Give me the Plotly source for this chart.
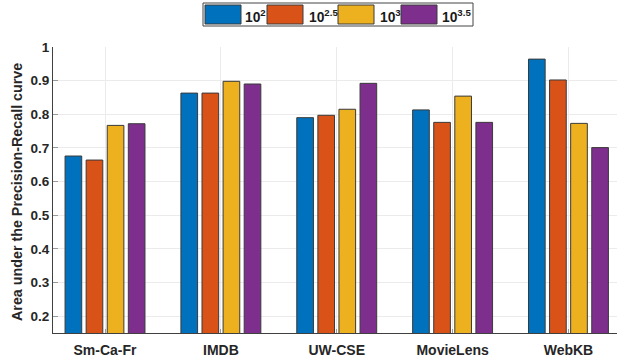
import plotly.graph_objects as go

# ---- data ----
categories = ["Sm-Ca-Fr", "IMDB", "UW-CSE", "MovieLens", "WebKB"]
series_names = ["10<sup>2</sup>", "10<sup>2.5</sup>", "10<sup>3</sup>", "10<sup>3.5</sup>"]
vals_1e2 = [0.676, 0.863, 0.790, 0.813, 0.964]
vals_1e25 = [0.664, 0.863, 0.797, 0.776, 0.902]
vals_1e3 = [0.767, 0.898, 0.815, 0.854, 0.773]
vals_1e35 = [0.772, 0.890, 0.892, 0.776, 0.701]
series_values = [vals_1e2, vals_1e25, vals_1e3, vals_1e35]
ytick_vals = [0.2, 0.3, 0.4, 0.5, 0.6, 0.7, 0.8, 0.9, 1.0]
ytick_text = ["0.2", "0.3", "0.4", "0.5", "0.6", "0.7", "0.8", "0.9", "1"]
y_title = "Area under the Precision-Recall curve"

colors = ["#0072BD", "#D95319", "#EDB120", "#7E2F8E"]
FONT = "Liberation Sans"

W, H = 617, 360
L, R, T, B = 53, 0, 47, 27
PW, PH = W - L - R, H - T - B


def px2x(px):
    return (px - L) / PW


def py2y(py):
    return (H - B - py) / PH


fig = go.Figure()
for name, vals, col in zip(series_names, series_values, colors):
    fig.add_trace(go.Bar(
        x=categories, y=vals, name=name,
        marker=dict(color=col, line=dict(color="#3a3a3a", width=1)),
        showlegend=False, hoverinfo="skip",
    ))

# manual legend (wide swatches like the original)
shapes = [dict(type="rect", xref="paper", yref="paper",
               x0=px2x(203), x1=px2x(473), y0=py2y(26), y1=py2y(3),
               line=dict(color="#444444", width=1), fillcolor="white")]
annotations = []
sw_x = [205, 267, 338, 401]
txt_x = [243, 307, 378, 440]
for i, (name, col) in enumerate(zip(series_names, colors)):
    shapes.append(dict(type="rect", xref="paper", yref="paper",
                       x0=px2x(sw_x[i]), x1=px2x(sw_x[i] + 36),
                       y0=py2y(24), y1=py2y(5),
                       line=dict(color="#3a3a3a", width=1), fillcolor=col))
    annotations.append(dict(xref="paper", yref="paper", x=px2x(txt_x[i]),
                            y=py2y(16), text=name, showarrow=False,
                            xanchor="left", yanchor="middle",
                            font=dict(family=FONT, size=13.8, color="#1a1a1a",
                                      weight="bold")))
# y-axis title
annotations.append(dict(xref="paper", yref="paper", x=px2x(17), y=py2y(192),
                        text=y_title, showarrow=False, textangle=-90,
                        xanchor="center", yanchor="middle",
                        font=dict(family=FONT, size=14.3, color="#262626",
                                  weight="bold")))

fig.update_layout(
    width=W, height=H,
    margin=dict(l=L, r=R, t=T, b=B, autoexpand=False),
    paper_bgcolor="white", plot_bgcolor="white",
    barmode="group", bargap=0.272, bargroupgap=0.21,
    shapes=shapes, annotations=annotations,
    font=dict(family=FONT, color="#262626"),
)
fig.update_xaxes(
    type="category", range=[-0.449, 4.419], automargin=False,
    showgrid=True, gridcolor="#ebebeb", gridwidth=1,
    showline=True, linecolor="#404040", linewidth=1,
    ticks="inside", ticklen=4, tickcolor="#999999",
    tickfont=dict(family=FONT, size=14, color="#262626", weight="bold"),
    ticklabelstandoff=4,
)
fig.update_yaxes(
    range=[0.15, 1.0], automargin=False,
    tickvals=ytick_vals, ticktext=ytick_text,
    showgrid=True, gridcolor="#ebebeb", gridwidth=1,
    showline=True, linecolor="#404040", linewidth=1,
    ticks="inside", ticklen=5, tickcolor="#999999",
    tickfont=dict(family=FONT, size=13.5, color="#262626", weight="bold"),
    zeroline=False,
)

fig.write_html("out.html",
               config={"displayModeBar": False},
               post_script="document.body.style.margin='0';"
                           "document.body.style.overflow='hidden';")
